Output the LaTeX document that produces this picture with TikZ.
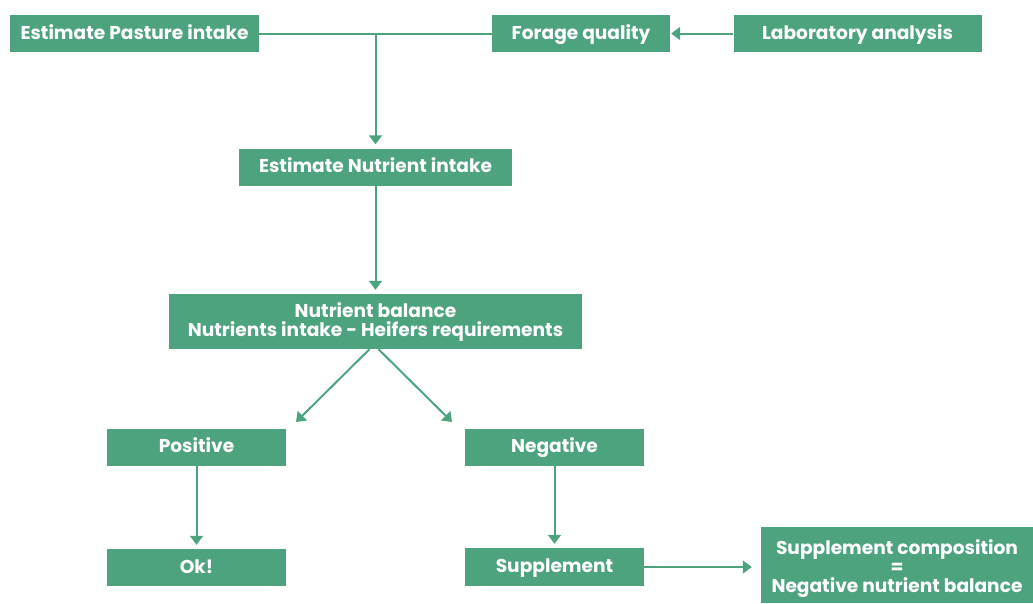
\documentclass[tikz,border=0pt]{standalone}
\usepackage{fontspec}
\setmainfont{Poppins}
\usetikzlibrary{arrows.meta,calc}
\definecolor{leaf}{RGB}{77,163,125}
\begin{document}
\begin{tikzpicture}[x=1pt,y=-1pt,
  box/.style={fill=leaf,draw=none,text=white,font=\fontsize{18.6}{19}\selectfont\bfseries,
    inner sep=0pt,align=center,text height=14.6pt,text depth=3pt},
  link/.style={draw=leaf,line width=2pt},
  arr/.style={link,-{Triangle[length=9pt,width=13pt]}}]
\useasboundingbox (0,0) rectangle (1033,603);
% boxes
\node[box,minimum width=249,minimum height=37] (pasture) at (134.5,33.5) {Estimate Pasture intake};
\node[box,minimum width=178,minimum height=37] (forage) at (581,33.5) {Forage quality};
\node[box,minimum width=248,minimum height=37] (lab) at (857.5,33.5) {Laboratory analysis};
\node[box,minimum width=273,minimum height=37] (nutint) at (375.5,167) {Estimate Nutrient intake};
\node[box,minimum width=413,minimum height=55,text height=33pt] (balance) at (375.5,321.5) {Nutrient balance\\Nutrients intake - Heifers requirements};
\node[box,minimum width=179,minimum height=37] (positive) at (196.5,447) {Positive};
\node[box,minimum width=179,minimum height=37] (negative) at (554.5,447) {Negative};
\node[box,minimum width=179,minimum height=37] (ok) at (196.5,567.5) {Ok!};
\node[box,minimum width=179,minimum height=38] (supp) at (554.5,567) {Supplement};
\node[box,minimum width=272,minimum height=76,text height=58pt] (comp) at (897,565) {Supplement composition\\=\\Negative nutrient balance};
% connectors
\coordinate (join) at (375.5,33.5);
\coordinate (lt) at (296,422);
\coordinate (rt) at (452,422);
\draw[link] (pasture.east) -- (forage.west);
\draw[arr,shorten >=4pt] (join) -- (nutint.north);
\draw[arr,shorten >=1pt] (lab.west) -- (forage.east);
\draw[arr,shorten >=4pt] (nutint.south) -- (balance.north);
\draw[arr] ($(balance.south)+(-6,0)$) -- (lt);
\draw[arr] ($(balance.south)+(3,0)$) -- (rt);
\draw[arr,shorten >=4pt] (positive.south) -- (ok.north);
\draw[arr,shorten >=4pt] (negative.south) -- (supp.north);
\draw[arr,shorten >=9pt] (supp.east) -- (supp.east -| comp.west);
\end{tikzpicture}
\end{document}
